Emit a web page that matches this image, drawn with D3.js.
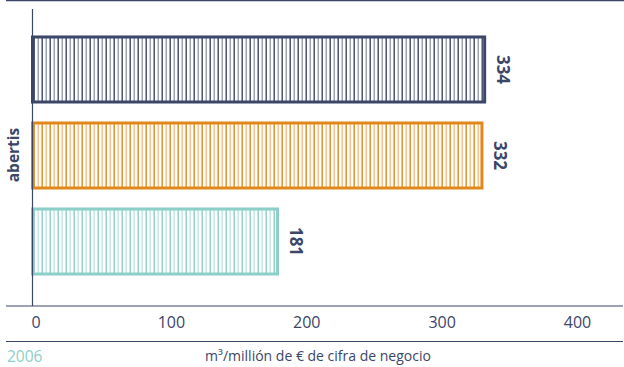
<!DOCTYPE html>
<html>
<head>
<meta charset="utf-8">
<script src="https://cdn.jsdelivr.net/npm/d3@7"></script>
<style>
  html, body { margin: 0; padding: 0; background: #fff; }
  svg { display: block; font-family: "Open Sans", "Noto Sans", sans-serif; }
</style>
</head>
<body>
<svg id="chart" width="624" height="367"></svg>
<script>
// Water consumption, m³ per million € of turnover (2006)
const series = ["s1", "s2", "s3"];
const values = [334, 332, 181];
const colors = ["#3b4668", "#e0881c", "#8ccfc8"];
const tickValues = [0, 100, 200, 300, 400];
const groupLabel = "abertis";
const yearLabel = "2006";
const unitLabel = "m³/millión de € de cifra de negocio";

const W = 624, H = 367;
const ink = "#3b4668";
const svg = d3.select("#chart");

const x = d3.scaleLinear().domain([0, 400]).range([32.5, 574]);
const y = d3.scaleBand().domain(series).range([26.5, 284.5])
  .paddingInner(0.244).paddingOuter(0.122);

// striped fills: alternating strong and soft vertical lines
const defs = svg.append("defs");
series.forEach((s, i) => {
  const p = defs.append("pattern")
    .attr("id", "stripe-" + s)
    .attr("patternUnits", "userSpaceOnUse")
    .attr("width", 8).attr("height", 8);
  p.append("rect").attr("x", 1.5).attr("y", 0).attr("width", 1.4).attr("height", 8)
    .attr("fill", colors[i]);
  p.append("rect").attr("x", 5.5).attr("y", 0).attr("width", 1.4).attr("height", 8)
    .attr("fill", colors[i]).attr("opacity", 0.55);
});

// frame lines
svg.append("line").attr("x1", 6).attr("x2", W).attr("y1", 0.5).attr("y2", 0.5)
  .attr("stroke", ink).attr("stroke-width", 1.5);
svg.append("line").attr("x1", 6).attr("x2", W - 1).attr("y1", 341.5).attr("y2", 341.5)
  .attr("stroke", ink).attr("stroke-width", 1.2);

// bars
svg.append("g").selectAll("rect").data(values).join("rect")
  .attr("x", x(0))
  .attr("y", (d, i) => y(series[i]))
  .attr("width", d => x(d) - x(0))
  .attr("height", y.bandwidth())
  .attr("fill", (d, i) => `url(#stripe-${series[i]})`)
  .attr("stroke", (d, i) => colors[i])
  .attr("stroke-width", 3);

// value labels, rotated along the bar end
svg.append("g").selectAll("text").data(values).join("text")
  .attr("transform", (d, i) =>
    `translate(${x(d) + 12},${y(series[i]) + y.bandwidth() / 2}) rotate(90)`)
  .attr("text-anchor", "middle")
  .attr("font-size", 17).attr("font-weight", 700)
  .attr("fill", ink)
  .text(d => d);

// vertical axis line
svg.append("line").attr("x1", x(0)).attr("x2", x(0)).attr("y1", 9).attr("y2", 306)
  .attr("stroke", ink).attr("stroke-width", 1.2);

// horizontal axis
const xAxis = svg.append("g").attr("transform", "translate(0,306)")
  .call(d3.axisBottom(x).tickValues(tickValues).tickSize(0).tickPadding(11));
xAxis.select(".domain").remove();
xAxis.append("line").attr("x1", 6).attr("x2", W - 1).attr("y1", 0).attr("y2", 0)
  .attr("stroke", ink).attr("stroke-width", 1.2);
xAxis.selectAll(".tick text")
  .attr("dx", 3)
  .attr("font-family", "Open Sans, Noto Sans, sans-serif")
  .attr("font-size", 16).attr("fill", ink);

// group label
svg.append("text")
  .attr("transform", `translate(19,155) rotate(-90)`)
  .attr("text-anchor", "middle")
  .attr("font-size", 15.5).attr("font-weight", 700)
  .attr("fill", ink)
  .text(groupLabel);

// footer
svg.append("text").attr("x", 7).attr("y", 362)
  .attr("font-size", 15.5).attr("fill", "#8ccfc8")
  .text(yearLabel);
svg.append("text").attr("x", 318).attr("y", 361)
  .attr("text-anchor", "middle")
  .attr("font-size", 14).attr("fill", ink)
  .text(unitLabel);
</script>
</body>
</html>
